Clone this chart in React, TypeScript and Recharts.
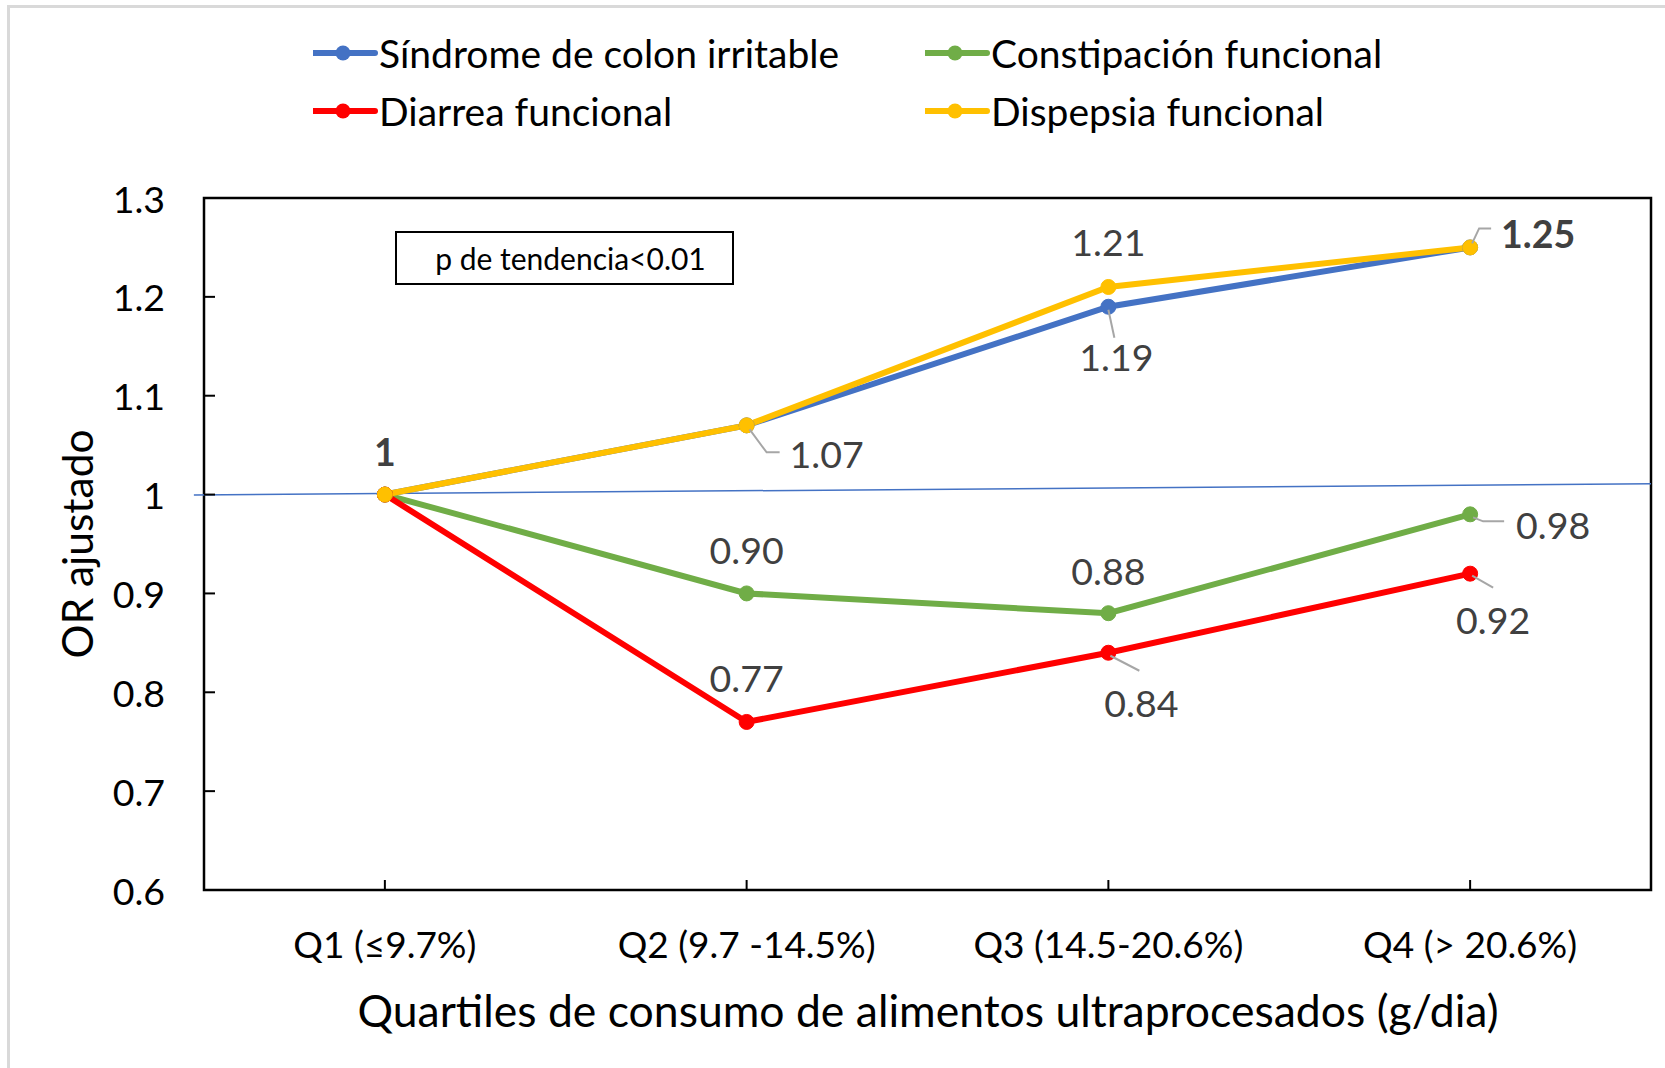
import React from 'react';
import { ComposedChart, Line, XAxis, YAxis, ReferenceLine, ReferenceArea, LabelList } from 'recharts';

// ---------- data ----------
const categories = ['Q1 (≤9.7%)', 'Q2 (9.7 -14.5%)', 'Q3 (14.5-20.6%)', 'Q4 (> 20.6%)'];
const colonIrritable = [1, 1.07, 1.19, 1.25];
const constipacionFuncional = [1, 0.9, 0.88, 0.98];
const diarreaFuncional = [1, 0.77, 0.84, 0.92];
const dispepsiaFuncional = [1, 1.07, 1.21, 1.25];
const yTicks = [0.6, 0.7, 0.8, 0.9, 1, 1.1, 1.2, 1.3];
const seriesNames = ['Síndrome de colon irritable', 'Constipación funcional', 'Diarrea funcional', 'Dispepsia funcional'];
// reference line at OR = 1 (slightly tilted in the original), x in plot-width units 0..3
const referenceSegment = [
  { x: -0.021, y: 0.9995 },
  { x: 3, y: 1.011 },
];
const xTitle = 'Quartiles de consumo de alimentos ultraprocesados (g/dia)';
const yTitle = 'OR ajustado';
const noteText = 'p de tendencia<0.01';

const data = categories.map((c, i) => ({
  cat: c,
  colon: colonIrritable[i],
  constip: constipacionFuncional[i],
  diarrea: diarreaFuncional[i],
  dispepsia: dispepsiaFuncional[i],
}));

// ---------- styles ----------
const FONT = 'Lato, "Open Sans", sans-serif';
const COLORS = { colon: '#4472C4', constip: '#70AD47', diarrea: '#FF0000', dispepsia: '#FFC000' };
const LABEL_COLOR = '#404040';
const LEADER_COLOR = '#A6A6A6';

type Place = { dx: number; dy: number; bold?: boolean; leader?: number[][] };
const labelPlacement: Record<string, Record<number, Place>> = {
  colon: {
    2: { dx: 8, dy: 50, leader: [[0, 3], [6, 31]] },
  },
  constip: {
    1: { dx: 0, dy: -44 },
    2: { dx: 0, dy: -43 },
    3: { dx: 83, dy: 10, leader: [[3, 3], [13, 7], [34, 7]] },
  },
  diarrea: {
    1: { dx: 0, dy: -44 },
    2: { dx: 33, dy: 50, leader: [[2, 3], [31, 18]] },
    3: { dx: 23, dy: 46, leader: [[2, 2], [23, 14]] },
  },
  dispepsia: {
    0: { dx: 0, dy: -43, bold: true },
    1: { dx: 80, dy: 28, leader: [[3, 4], [20, 27], [33, 27]] },
    2: { dx: 0, dy: -45 },
    3: { dx: 68, dy: -14, bold: true, leader: [[2, -4], [9, -19], [21, -19]] },
  },
};

const fmt = (v: number) => (v === 1 ? '1' : v.toFixed(2));

const makeLabel = (key: string) => (props: any) => {
  const idx = props.index;
  const place = labelPlacement[key][idx];
  if (!place) return null;
  const x = props.x ?? props.viewBox?.x;
  const y = props.y ?? props.viewBox?.y;
  if (x == null || y == null) return null;
  const pts = place.leader ? place.leader.map((p) => `${x + p[0]},${y + p[1]}`).join(' ') : null;
  return (
    <g key={`${key}-${idx}`}>
      {pts && <polyline points={pts} fill="none" stroke={LEADER_COLOR} strokeWidth={2} />}
      <text
        x={x + place.dx}
        y={y + place.dy}
        textAnchor="middle"
        dominantBaseline="central"
        fontFamily={FONT}
        fontSize={37.5}
        fontWeight={place.bold ? 700 : 400}
        fill={LABEL_COLOR}
      >
        {fmt(props.value)}
      </text>
    </g>
  );
};

const XTick = (props: any) => {
  const { x, y, payload } = props;
  return (
    <g>
      <line x1={x} y1={y} x2={x} y2={y - 10} stroke="#000" strokeWidth={2} />
      <text x={x} y={y + 53} textAnchor="middle" dominantBaseline="central" fontFamily={FONT} fontSize={37} fill="#000">
        {payload.value}
      </text>
    </g>
  );
};

const YTick = (props: any) => {
  const { x, y, payload } = props;
  return (
    <g>
      <line x1={x} y1={y} x2={x + 11} y2={y} stroke="#000" strokeWidth={2} />
      <text x={x - 39} y={y} textAnchor="end" dominantBaseline="central" fontFamily={FONT} fontSize={37.5} fill="#000">
        {String(payload.value)}
      </text>
    </g>
  );
};

const seriesKeys = ['colon', 'constip', 'diarrea', 'dispepsia'] as const;

const LegendItem = ({ color, name }: { color: string; name: string }) => (
  <div style={{ display: 'flex', alignItems: 'center', width: 612, height: 58 }}>
    <svg width={66} height={20} style={{ flex: 'none' }}>
      <line x1={0} y1={10} x2={62} y2={10} stroke={color} strokeWidth={6} strokeLinecap="round" />
      <circle cx={30} cy={10} r={7.5} fill={color} />
    </svg>
    <span style={{ fontFamily: FONT, fontSize: 39, color: '#000', whiteSpace: 'nowrap' }}>{name}</span>
  </div>
);

export default function App() {
  return (
    <div style={{ position: 'absolute', left: 0, top: 0, width: 1665, height: 1068, background: '#fff', overflow: 'hidden' }}>
      <div
        style={{
          position: 'absolute',
          left: 7,
          top: 5,
          right: 0,
          bottom: 0,
          borderTop: '3px solid #D9D9D9',
          borderLeft: '3px solid #D9D9D9',
        }}
      />
      <ComposedChart width={1665} height={1068} data={data} margin={{ top: 198, right: 14, bottom: 118, left: 144 }}>
        <XAxis dataKey="cat" type="category" scale="band" tickSize={0} tickMargin={0} axisLine={false} tickLine={false} tick={<XTick />} height={60} interval={0} />
        <XAxis xAxisId="n" type="number" domain={[0, 3]} hide allowDataOverflow />
        <YAxis type="number" domain={[0.6, 1.3]} ticks={yTicks} tickSize={0} tickMargin={0} axisLine={false} tickLine={false} tick={<YTick />} width={60} allowDataOverflow interval={0} />
        <ReferenceLine xAxisId="n" segment={referenceSegment} stroke="#4472C4" strokeWidth={1.5} ifOverflow="visible" />
        <ReferenceArea y1={0.6} y2={1.3} fill="none" stroke="#000" strokeWidth={2.5} ifOverflow="visible" />
        {seriesKeys.map((k, i) => (
          <Line
            key={k}
            dataKey={k}
            name={seriesNames[i]}
            stroke={COLORS[k]}
            strokeWidth={6}
            dot={{ r: 7.5, fill: COLORS[k], stroke: COLORS[k], strokeWidth: 1 }}
            activeDot={false}
            isAnimationActive={false}
          >
            <LabelList dataKey={k} content={makeLabel(k)} />
          </Line>
        ))}
      </ComposedChart>

      {/* legend */}
      <div style={{ position: 'absolute', left: 313, top: 24, display: 'flex', flexWrap: 'wrap', width: 1224 }}>
        {seriesKeys.map((k, i) => (
          <LegendItem key={k} color={COLORS[k]} name={seriesNames[i]} />
        ))}
      </div>

      {/* note box */}
      <div
        style={{
          position: 'absolute',
          left: 395,
          top: 231,
          width: 339,
          height: 54,
          boxSizing: 'border-box',
          border: '2px solid #000',
          display: 'flex',
          alignItems: 'center',
          justifyContent: 'center',
          paddingLeft: 12,
          fontFamily: FONT,
          fontSize: 30,
          color: '#000',
        }}
      >
        {noteText}
      </div>

      {/* axis titles */}
      <div
        style={{
          position: 'absolute',
          left: 928,
          top: 1009,
          transform: 'translate(-50%, -50%)',
          fontFamily: FONT,
          fontSize: 44.5,
          whiteSpace: 'nowrap',
          color: '#000',
        }}
      >
        {xTitle}
      </div>
      <div
        style={{
          position: 'absolute',
          left: 76,
          top: 544,
          transform: 'translate(-50%, -50%) rotate(-90deg)',
          fontFamily: FONT,
          fontSize: 42.5,
          whiteSpace: 'nowrap',
          color: '#000',
        }}
      >
        {yTitle}
      </div>
    </div>
  );
}
